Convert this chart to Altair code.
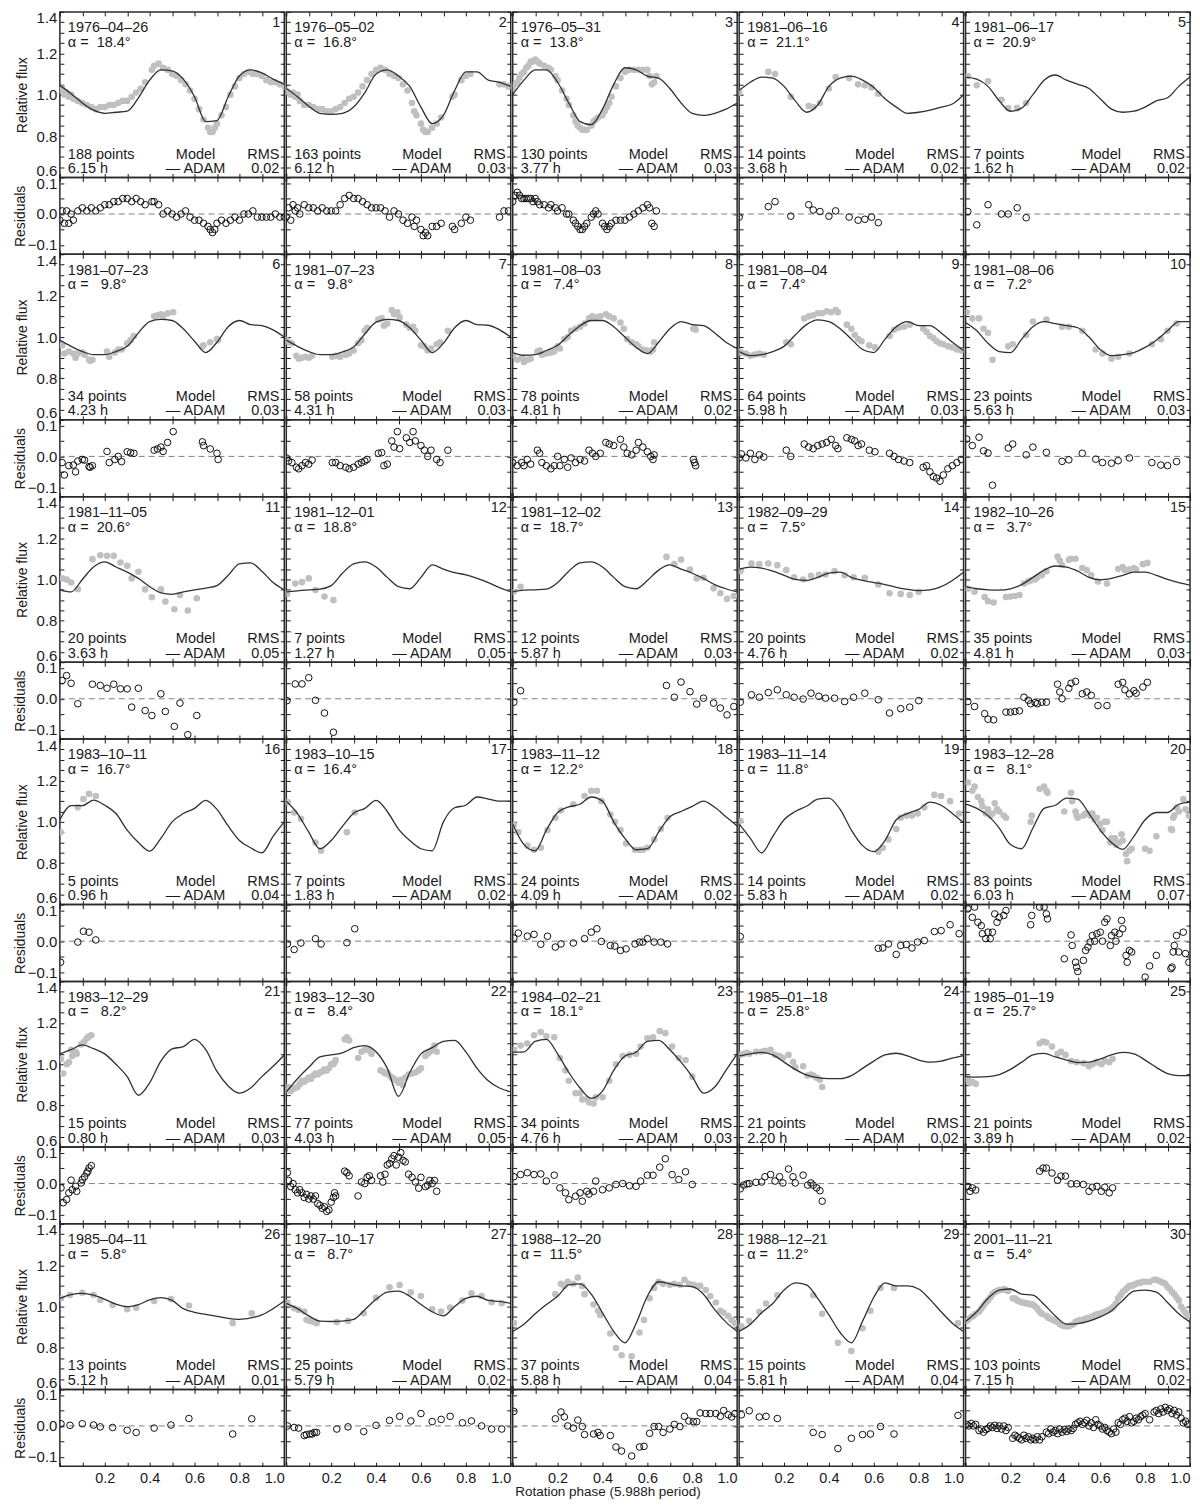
import altair as alt
import pandas as pd

# ---------------- panel metadata ----------------
DATES = ["1976–04–26", "1976–05–02", "1976–05–31", "1981–06–16", "1981–06–17",
         "1981–07–23", "1981–07–23", "1981–08–03", "1981–08–04", "1981–08–06",
         "1981–11–05", "1981–12–01", "1981–12–02", "1982–09–29", "1982–10–26",
         "1983–10–11", "1983–10–15", "1983–11–12", "1983–11–14", "1983–12–28",
         "1983–12–29", "1983–12–30", "1984–02–21", "1985–01–18", "1985–01–19",
         "1985–04–11", "1987–10–17", "1988–12–20", "1988–12–21", "2001–11–21"]
ALPHAS = [18.4, 16.8, 13.8, 21.1, 20.9, 9.8, 9.8, 7.4, 7.4, 7.2,
          20.6, 18.8, 18.7, 7.5, 3.7, 16.7, 16.4, 12.2, 11.8, 8.1,
          8.2, 8.4, 18.1, 25.8, 25.7, 5.8, 8.7, 11.5, 11.2, 5.4]
NPTS = [188, 163, 130, 14, 7, 34, 58, 78, 64, 23, 20, 7, 12, 20, 35,
        5, 7, 24, 14, 83, 15, 77, 34, 21, 21, 13, 25, 37, 15, 103]
HOURS = [6.15, 6.12, 3.77, 3.68, 1.62, 4.23, 4.31, 4.81, 5.98, 5.63,
         3.63, 1.27, 5.87, 4.76, 4.81, 0.96, 1.83, 4.09, 5.83, 6.03,
         0.80, 4.03, 4.76, 2.20, 3.89, 5.12, 5.79, 5.88, 5.81, 7.15]
RMS = [0.02, 0.03, 0.03, 0.02, 0.02, 0.03, 0.03, 0.02, 0.03, 0.03,
       0.05, 0.05, 0.03, 0.02, 0.03, 0.04, 0.02, 0.02, 0.02, 0.07,
       0.03, 0.05, 0.03, 0.02, 0.02, 0.01, 0.02, 0.04, 0.04, 0.02]

# ---------------- model curves (ADAM), sampled on a phase grid ----------------
GRID = [0.00, 0.05, 0.10, 0.15, 0.20, 0.25, 0.30, 0.35, 0.40, 0.45, 0.50,
        0.55, 0.60, 0.65, 0.70, 0.75, 0.80, 0.85, 0.90, 0.95, 1.00]

M01 = [1.045, 1.005, 0.96, 0.925, 0.91, 0.915, 0.92, 0.985, 1.07, 1.12, 1.115, 1.075, 0.99, 0.87, 0.875, 0.99, 1.09, 1.12, 1.105, 1.075, 1.05]
M02 = [1.03, 0.99, 0.945, 0.91, 0.905, 0.91, 0.94, 1.01, 1.10, 1.12, 1.09, 1.04, 0.94, 0.86, 0.90, 1.02, 1.11, 1.11, 1.07, 1.06, 1.04]
M03 = [1.00, 1.07, 1.12, 1.12, 1.06, 0.96, 0.87, 0.855, 0.93, 1.05, 1.13, 1.12, 1.09, 1.08, 1.03, 0.96, 0.91, 0.90, 0.91, 0.93, 0.96]
M04 = [1.02, 1.06, 1.085, 1.08, 1.04, 0.97, 0.915, 0.95, 1.04, 1.08, 1.09, 1.07, 1.035, 0.98, 0.94, 0.91, 0.915, 0.925, 0.94, 0.955, 1.00]
M05 = [1.085, 1.075, 1.04, 0.97, 0.92, 0.935, 1.00, 1.07, 1.095, 1.07, 1.05, 1.03, 0.98, 0.93, 0.915, 0.92, 0.94, 0.97, 0.985, 1.04, 1.085]
M06 = [0.985, 0.955, 0.93, 0.915, 0.915, 0.93, 0.955, 1.02, 1.075, 1.085, 1.08, 1.04, 0.98, 0.925, 0.975, 1.05, 1.08, 1.06, 1.055, 1.035, 1.00]
M07 = [0.985, 0.955, 0.93, 0.915, 0.915, 0.928, 0.952, 1.015, 1.072, 1.085, 1.08, 1.045, 0.985, 0.925, 0.97, 1.045, 1.08, 1.06, 1.057, 1.035, 1.00]
M08 = [0.925, 0.912, 0.915, 0.935, 0.96, 1.01, 1.055, 1.08, 1.08, 1.05, 1.00, 0.95, 0.92, 0.975, 1.04, 1.075, 1.06, 1.055, 1.02, 0.975, 0.945]
M09 = [0.93, 0.91, 0.915, 0.93, 0.955, 1.01, 1.06, 1.083, 1.075, 1.04, 0.99, 0.94, 0.925, 0.99, 1.05, 1.075, 1.055, 1.055, 1.02, 0.975, 0.935]
M10 = [1.07, 1.03, 0.97, 0.93, 0.925, 0.99, 1.05, 1.075, 1.065, 1.055, 1.045, 1.00, 0.94, 0.91, 0.915, 0.925, 0.95, 0.985, 1.03, 1.075, 1.075]
M11 = [0.95, 0.94, 1.00, 1.06, 1.085, 1.06, 1.035, 1.005, 0.965, 0.935, 0.928, 0.94, 0.95, 0.958, 0.97, 1.02, 1.075, 1.08, 1.04, 0.985, 0.95]
M12 = [0.94, 0.945, 0.95, 0.953, 0.97, 1.03, 1.075, 1.085, 1.06, 1.01, 0.965, 0.955, 1.01, 1.07, 1.05, 1.033, 1.022, 1.005, 0.985, 0.96, 0.94]
M13 = [0.94, 0.948, 0.95, 0.953, 0.985, 1.04, 1.08, 1.085, 1.06, 1.01, 0.965, 0.955, 0.995, 1.045, 1.07, 1.05, 1.03, 1.005, 0.975, 0.955, 0.94]
M14 = [1.05, 1.06, 1.055, 1.04, 1.02, 1.00, 0.995, 1.01, 1.03, 1.035, 1.01, 0.995, 0.985, 0.975, 0.962, 0.952, 0.946, 0.95, 0.965, 0.995, 1.035]
M15 = [0.965, 0.955, 0.95, 0.948, 0.955, 0.975, 1.01, 1.045, 1.065, 1.06, 1.04, 1.01, 0.998, 1.005, 1.02, 1.035, 1.035, 1.02, 1.00, 0.985, 0.973]
M16 = [1.01, 1.078, 1.078, 1.105, 1.08, 1.04, 0.96, 0.90, 0.858, 0.92, 1.00, 1.04, 1.065, 1.104, 1.06, 0.98, 0.91, 0.875, 0.85, 0.93, 1.00]
M17 = [1.10, 1.04, 0.95, 0.87, 0.91, 0.978, 1.042, 1.065, 1.104, 1.05, 0.965, 0.91, 0.87, 0.86, 1.00, 1.068, 1.08, 1.12, 1.11, 1.10, 1.10]
M18 = [0.99, 0.89, 0.86, 0.96, 1.045, 1.072, 1.085, 1.12, 1.10, 1.00, 0.92, 0.865, 0.87, 0.95, 1.025, 1.05, 1.075, 1.10, 1.07, 1.025, 0.98]
M19 = [0.99, 0.92, 0.85, 0.93, 1.01, 1.05, 1.075, 1.11, 1.115, 1.06, 0.96, 0.885, 0.856, 0.91, 1.01, 1.04, 1.06, 1.095, 1.08, 1.04, 0.995]
M20 = [1.085, 1.065, 1.03, 0.97, 0.89, 0.87, 0.97, 1.065, 1.08, 1.115, 1.11, 1.04, 0.96, 0.90, 0.867, 0.93, 1.01, 1.045, 1.045, 1.085, 1.095]
M21 = [1.05, 1.07, 1.093, 1.075, 1.05, 1.00, 0.94, 0.85, 0.91, 1.015, 1.074, 1.085, 1.12, 1.07, 0.965, 0.895, 0.86, 0.885, 0.94, 0.99, 1.045]
M22 = [0.866, 0.93, 0.985, 1.035, 1.045, 1.055, 1.08, 1.09, 1.06, 0.98, 0.845, 0.96, 1.05, 1.08, 1.11, 1.115, 1.06, 0.98, 0.92, 0.885, 0.866]
M23 = [1.058, 1.06, 1.11, 1.12, 1.05, 0.96, 0.885, 0.835, 0.87, 0.97, 1.04, 1.058, 1.11, 1.115, 1.07, 1.01, 0.94, 0.86, 0.89, 0.97, 1.05]
M24 = [1.04, 1.05, 1.057, 1.045, 1.01, 0.975, 0.948, 0.935, 0.93, 0.93, 0.945, 0.98, 1.015, 1.045, 1.053, 1.04, 1.02, 1.01, 1.015, 1.03, 1.042]
M25 = [0.94, 0.938, 0.94, 0.95, 0.975, 1.01, 1.045, 1.052, 1.035, 1.02, 1.008, 1.01, 1.025, 1.045, 1.057, 1.05, 1.02, 0.985, 0.955, 0.945, 0.945]
M26 = [1.04, 1.058, 1.064, 1.055, 1.035, 1.012, 1.00, 1.01, 1.032, 1.043, 1.03, 0.99, 0.972, 0.962, 0.953, 0.943, 0.938, 0.945, 0.96, 0.99, 1.027]
M27 = [1.016, 0.99, 0.955, 0.93, 0.928, 0.93, 0.938, 0.985, 1.035, 1.07, 1.075, 1.05, 1.01, 0.975, 0.955, 1.00, 1.04, 1.05, 1.03, 1.025, 1.016]
M28 = [0.88, 0.915, 0.965, 1.01, 1.05, 1.105, 1.11, 1.06, 0.97, 0.88, 0.825, 0.92, 1.05, 1.12, 1.11, 1.10, 1.097, 1.06, 0.985, 0.925, 0.88]
M29 = [0.88, 0.915, 0.97, 1.015, 1.08, 1.115, 1.105, 1.04, 0.96, 0.875, 0.825, 0.93, 1.045, 1.115, 1.10, 1.10, 1.085, 1.035, 0.975, 0.92, 0.88]
M30 = [0.928, 0.975, 1.04, 1.08, 1.085, 1.06, 1.055, 1.01, 0.955, 0.915, 0.918, 0.93, 0.95, 0.98, 1.03, 1.075, 1.08, 1.07, 1.02, 0.965, 0.925]

# ---------------- observations: (phase, relative flux, residual) ----------------
D01 = [(0.00, 1.02, -0.02), (0.01, 1.03, 0.01), (0.02, 1.00, -0.03), (0.03, 1.01, 0.01), (0.04, 0.99, -0.03),
       (0.05, 1.00, 0.00), (0.06, 0.98, -0.02), (0.08, 0.97, 0.01), (0.10, 0.96, 0.02), (0.12, 0.95, 0.01),
       (0.14, 0.94, 0.02), (0.16, 0.93, 0.01), (0.18, 0.94, 0.02), (0.20, 0.94, 0.03), (0.22, 0.95, 0.03),
       (0.24, 0.95, 0.04), (0.26, 0.96, 0.04), (0.28, 0.97, 0.05), (0.30, 0.97, 0.05), (0.32, 0.99, 0.04),
       (0.34, 1.01, 0.05), (0.36, 1.03, 0.04), (0.38, 1.06, 0.03), (0.41, 1.12, 0.04), (0.42, 1.14, 0.04),
       (0.44, 1.15, 0.03), (0.46, 1.13, 0.00), (0.48, 1.12, 0.01), (0.50, 1.10, 0.00), (0.52, 1.09, -0.01),
       (0.54, 1.07, 0.00), (0.56, 1.05, 0.01), (0.58, 1.02, -0.01), (0.60, 0.98, -0.02), (0.62, 0.93, -0.02),
       (0.64, 0.88, -0.03), (0.66, 0.84, -0.04), (0.67, 0.82, -0.05), (0.68, 0.82, -0.06), (0.69, 0.84, -0.05),
       (0.70, 0.86, -0.03), (0.72, 0.90, -0.02), (0.74, 0.94, -0.03), (0.76, 1.00, -0.02), (0.78, 1.04, -0.01),
       (0.80, 1.08, -0.02), (0.82, 1.10, 0.00), (0.84, 1.11, 0.00), (0.86, 1.10, 0.01), (0.88, 1.10, -0.01),
       (0.90, 1.09, -0.01), (0.92, 1.07, -0.01), (0.94, 1.06, -0.01), (0.96, 1.06, 0.00), (0.98, 1.05, -0.01),
       (1.00, 1.04, -0.01)]
D02 = [(0.00, 1.02, -0.01), (0.01, 1.01, 0.02), (0.02, 1.00, -0.02), (0.03, 1.01, 0.03), (0.04, 0.99, 0.01),
       (0.05, 1.00, 0.02), (0.06, 0.97, 0.00), (0.08, 0.95, 0.03), (0.10, 0.95, 0.02), (0.12, 0.94, 0.02),
       (0.14, 0.93, 0.01), (0.16, 0.93, 0.02), (0.18, 0.92, 0.01), (0.20, 0.92, 0.01), (0.22, 0.93, 0.01),
       (0.24, 0.94, 0.03), (0.26, 0.96, 0.05), (0.28, 0.98, 0.06), (0.30, 0.99, 0.05), (0.32, 1.01, 0.05),
       (0.34, 1.04, 0.04), (0.36, 1.07, 0.03), (0.38, 1.10, 0.02), (0.40, 1.12, 0.02), (0.42, 1.13, 0.02),
       (0.44, 1.12, 0.01), (0.46, 1.10, -0.01), (0.48, 1.09, 0.01), (0.50, 1.08, 0.00), (0.52, 1.05, -0.02),
       (0.54, 1.02, -0.03), (0.56, 0.96, -0.01), (0.57, 0.92, -0.04), (0.58, 0.90, -0.02), (0.60, 0.86, -0.05),
       (0.61, 0.83, -0.07), (0.62, 0.82, -0.06), (0.63, 0.82, -0.07), (0.65, 0.84, -0.04), (0.67, 0.86, -0.04),
       (0.69, 0.89, -0.03), (0.74, 0.99, -0.04), (0.75, 1.00, -0.05), (0.78, 1.07, -0.03), (0.80, 1.09, -0.01),
       (0.82, 1.10, -0.02), (0.95, 1.05, -0.01), (0.97, 1.05, 0.01), (0.99, 1.04, 0.01)]
D03 = [(0.00, 1.03, 0.04), (0.01, 1.05, 0.06), (0.02, 1.06, 0.07), (0.03, 1.08, 0.06), (0.04, 1.10, 0.05),
       (0.05, 1.11, 0.05), (0.06, 1.13, 0.05), (0.07, 1.14, 0.05), (0.08, 1.16, 0.05), (0.09, 1.16, 0.04),
       (0.10, 1.17, 0.05), (0.11, 1.16, 0.04), (0.12, 1.15, 0.03), (0.14, 1.14, 0.03), (0.16, 1.13, 0.02),
       (0.17, 1.12, 0.03), (0.19, 1.09, 0.02), (0.20, 1.07, 0.01), (0.22, 1.02, 0.02), (0.24, 0.98, 0.00),
       (0.25, 0.95, 0.00), (0.27, 0.90, -0.02), (0.28, 0.87, -0.03), (0.29, 0.85, -0.04), (0.30, 0.84, -0.05),
       (0.31, 0.83, -0.05), (0.32, 0.83, -0.04), (0.33, 0.83, -0.03), (0.35, 0.85, -0.01), (0.36, 0.87, 0.00),
       (0.37, 0.88, 0.01), (0.38, 0.89, 0.00), (0.40, 0.90, -0.03), (0.41, 0.92, -0.04), (0.42, 0.94, -0.05),
       (0.43, 0.96, -0.04), (0.44, 0.99, -0.03), (0.46, 1.04, -0.02), (0.48, 1.08, -0.02), (0.50, 1.11, -0.02),
       (0.52, 1.12, -0.01), (0.54, 1.12, 0.00), (0.56, 1.12, 0.01), (0.58, 1.12, 0.02), (0.60, 1.12, 0.03),
       (0.61, 1.09, 0.02), (0.62, 1.05, -0.03), (0.63, 1.06, -0.04), (0.64, 1.09, 0.01)]
D04 = [(0.00, 1.01, -0.01), (0.13, 1.11, 0.024), (0.16, 1.10, 0.04), (0.23, 0.99, -0.007), (0.31, 0.945, 0.03),
       (0.33, 0.94, 0.013), (0.36, 0.96, 0.008), (0.40, 1.03, -0.007), (0.43, 1.085, 0.01), (0.49, 1.08, -0.01),
       (0.53, 1.05, -0.02), (0.56, 1.045, -0.017), (0.59, 1.035, -0.01), (0.62, 1.005, -0.028)]
D05 = [(0.01, 1.09, 0.008), (0.05, 1.045, -0.035), (0.10, 1.065, 0.03), (0.16, 0.975, 0.0), (0.19, 0.935, 0.0),
       (0.23, 0.935, 0.02), (0.27, 0.96, -0.012)]
D06 = [(0.01, 0.96, -0.02), (0.02, 0.92, -0.06), (0.04, 0.93, -0.03), (0.06, 0.92, -0.028), (0.07, 0.90, -0.05),
       (0.08, 0.92, -0.015), (0.10, 0.925, -0.01), (0.11, 0.915, -0.012), (0.13, 0.89, -0.033), (0.135, 0.885, -0.035),
       (0.145, 0.89, -0.03), (0.21, 0.93, 0.016), (0.22, 0.905, -0.02), (0.245, 0.925, -0.01), (0.26, 0.94, 0.0),
       (0.275, 0.94, -0.017), (0.30, 0.97, 0.015), (0.315, 0.985, 0.012), (0.33, 1.005, 0.01), (0.42, 1.10, 0.02),
       (0.435, 1.105, 0.024), (0.45, 1.11, 0.03), (0.46, 1.10, 0.016), (0.48, 1.115, 0.045), (0.505, 1.12, 0.08),
       (0.635, 0.955, 0.047), (0.64, 0.96, 0.035), (0.67, 0.975, 0.024), (0.70, 0.99, 0.01), (0.705, 0.985, -0.01)]
D07 = [(0.00, 0.985, -0.005), (0.01, 0.975, -0.015), (0.025, 0.97, -0.02), (0.045, 0.91, -0.035), (0.055, 0.895, -0.04),
       (0.07, 0.90, -0.03), (0.085, 0.905, -0.02), (0.10, 0.90, -0.025), (0.115, 0.91, -0.012), (0.205, 0.905, -0.02),
       (0.22, 0.91, -0.02), (0.24, 0.905, -0.03), (0.265, 0.915, -0.035), (0.28, 0.92, -0.04), (0.30, 0.935, -0.035),
       (0.32, 0.97, -0.025), (0.335, 0.985, -0.02), (0.35, 1.03, -0.015), (0.36, 1.045, -0.01), (0.41, 1.085, 0.01),
       (0.425, 1.09, 0.012), (0.435, 1.055, -0.03), (0.45, 1.065, -0.025), (0.47, 1.13, 0.05), (0.48, 1.11, 0.03),
       (0.495, 1.12, 0.08), (0.505, 1.095, 0.025), (0.535, 1.06, 0.06), (0.55, 1.045, 0.045), (0.565, 1.05, 0.08),
       (0.575, 1.03, 0.05), (0.60, 0.96, 0.035), (0.615, 0.955, 0.02), (0.63, 0.935, 0.0), (0.645, 0.945, 0.02),
       (0.67, 0.965, -0.01), (0.685, 0.975, -0.02), (0.72, 1.03, 0.02)]
D08 = [(0.00, 0.91, -0.02), (0.02, 0.89, -0.03), (0.04, 0.90, -0.02), (0.05, 0.88, -0.03), (0.065, 0.89, -0.01),
       (0.08, 0.895, -0.025), (0.11, 0.93, 0.02), (0.12, 0.935, 0.01), (0.13, 0.915, -0.02), (0.15, 0.92, -0.03),
       (0.17, 0.925, -0.04), (0.185, 0.93, -0.03), (0.20, 0.955, 0.0), (0.21, 0.945, -0.03), (0.23, 0.99, -0.01),
       (0.245, 1.00, -0.035), (0.26, 1.03, -0.005), (0.28, 1.04, -0.02), (0.30, 1.05, -0.01), (0.32, 1.065, -0.015),
       (0.34, 1.09, 0.02), (0.355, 1.10, 0.01), (0.37, 1.095, 0.0), (0.39, 1.10, 0.01), (0.415, 1.11, 0.045),
       (0.43, 1.10, 0.04), (0.45, 1.09, 0.035), (0.48, 1.07, 0.055), (0.495, 1.04, 0.03), (0.51, 0.99, 0.01),
       (0.53, 0.975, 0.005), (0.55, 0.965, 0.02), (0.56, 0.955, 0.045), (0.58, 0.94, 0.03), (0.60, 0.935, 0.015),
       (0.615, 0.93, 0.0), (0.625, 0.94, -0.01), (0.63, 0.975, 0.005), (0.805, 1.04, -0.01), (0.81, 1.045, -0.02),
       (0.815, 1.035, -0.03)]
D09 = [(0.00, 0.93, -0.005), (0.01, 0.925, 0.008), (0.03, 0.92, -0.005), (0.05, 0.91, 0.01), (0.07, 0.915, -0.01),
       (0.09, 0.92, 0.005), (0.11, 0.915, -0.002), (0.21, 0.975, 0.02), (0.23, 0.965, 0.0), (0.29, 1.09, 0.04),
       (0.31, 1.10, 0.03), (0.33, 1.105, 0.025), (0.35, 1.115, 0.035), (0.37, 1.115, 0.04), (0.39, 1.125, 0.045),
       (0.41, 1.12, 0.055), (0.43, 1.13, 0.035), (0.44, 1.12, 0.025), (0.48, 1.06, 0.06), (0.50, 1.04, 0.055),
       (0.515, 1.01, 0.05), (0.53, 0.99, 0.035), (0.545, 0.98, 0.04), (0.58, 0.96, 0.02), (0.605, 0.95, 0.015),
       (0.67, 1.005, 0.01), (0.69, 1.035, 0.0), (0.71, 1.045, -0.01), (0.735, 1.05, -0.015), (0.76, 1.06, -0.02),
       (0.82, 1.04, -0.035), (0.835, 1.025, -0.03), (0.85, 1.005, -0.05), (0.865, 0.995, -0.065), (0.88, 0.98, -0.07),
       (0.895, 0.97, -0.08), (0.91, 0.965, -0.06), (0.93, 0.955, -0.04), (0.95, 0.95, -0.03), (0.97, 0.94, -0.02),
       (0.99, 0.935, -0.01)]
D10 = [(0.005, 1.12, 0.056), (0.03, 1.09, 0.035), (0.06, 1.09, 0.062), (0.08, 1.04, 0.018), (0.10, 1.02, 0.011),
       (0.12, 0.89, -0.093), (0.19, 0.955, 0.027), (0.21, 0.965, 0.04), (0.27, 1.01, 0.005), (0.30, 1.075, 0.03),
       (0.36, 1.085, 0.013), (0.43, 1.05, -0.016), (0.46, 1.05, -0.011), (0.52, 1.03, 0.01), (0.58, 0.94, -0.009),
       (0.61, 0.92, -0.02), (0.65, 0.895, -0.022), (0.68, 0.905, -0.014), (0.73, 0.92, -0.005), (0.83, 0.965, -0.02),
       (0.87, 0.99, -0.028), (0.90, 1.03, -0.03), (0.94, 1.065, -0.017)]
D11 = [(0.01, 1.005, 0.059), (0.03, 1.00, 0.075), (0.05, 0.985, 0.05), (0.08, 0.953, -0.016), (0.145, 1.098, 0.047),
       (0.18, 1.117, 0.043), (0.21, 1.114, 0.034), (0.24, 1.114, 0.047), (0.27, 1.082, 0.032), (0.30, 1.066, 0.032),
       (0.32, 1.005, -0.027), (0.35, 1.037, 0.034), (0.38, 0.952, -0.038), (0.41, 0.914, -0.054), (0.45, 0.952, 0.016),
       (0.47, 0.893, -0.041), (0.51, 0.856, -0.089), (0.535, 0.925, -0.014), (0.57, 0.85, -0.116), (0.61, 0.909, -0.054)]
D12 = [(0.003, 0.93, -0.006), (0.04, 0.98, 0.048), (0.07, 0.987, 0.048), (0.10, 1.005, 0.068), (0.13, 0.949, -0.005),
       (0.17, 0.917, -0.046), (0.21, 0.90, -0.108)]
D13 = [(0.005, 0.94, -0.011), (0.035, 0.965, 0.026), (0.685, 1.109, 0.043), (0.72, 1.074, 0.005), (0.75, 1.096, 0.054),
       (0.79, 1.048, 0.023), (0.82, 1.005, -0.017), (0.85, 1.008, 0.002), (0.895, 0.957, -0.014), (0.925, 0.933, -0.03),
       (0.955, 0.906, -0.052), (0.985, 0.92, -0.025)]
D14 = [(0.005, 1.04, -0.011), (0.055, 1.077, 0.013), (0.09, 1.074, 0.005), (0.13, 1.077, 0.02), (0.17, 1.069, 0.029),
       (0.21, 1.045, 0.013), (0.245, 1.01, 0.005), (0.285, 1.00, -0.001), (0.32, 1.018, 0.018), (0.355, 1.022, 0.008),
       (0.385, 1.024, 0.002), (0.425, 1.04, 0.002), (0.47, 1.02, -0.009), (0.51, 1.01, 0.005), (0.56, 1.008, 0.018),
       (0.62, 0.976, -0.003), (0.67, 0.933, -0.046), (0.72, 0.93, -0.032), (0.76, 0.925, -0.027), (0.80, 0.94, -0.006)]
D15 = [(0.01, 0.955, -0.009), (0.04, 0.94, -0.025), (0.085, 0.915, -0.048), (0.10, 0.895, -0.066), (0.125, 0.888, -0.068),
       (0.18, 0.915, -0.043), (0.20, 0.917, -0.043), (0.22, 0.92, -0.041), (0.24, 0.925, -0.039), (0.26, 0.98, 0.005),
       (0.28, 0.99, -0.005), (0.29, 0.995, -0.016), (0.31, 1.00, -0.012), (0.32, 1.01, -0.016), (0.34, 1.02, -0.011),
       (0.36, 1.04, -0.011), (0.41, 1.11, 0.047), (0.42, 1.09, 0.022), (0.43, 1.07, 0.0), (0.46, 1.095, 0.034),
       (0.47, 1.10, 0.05), (0.49, 1.10, 0.056), (0.52, 1.055, 0.016), (0.54, 1.045, 0.022), (0.56, 1.02, 0.011),
       (0.59, 0.99, -0.022), (0.63, 0.98, -0.022), (0.68, 1.05, 0.047), (0.70, 1.06, 0.053), (0.71, 1.045, 0.029),
       (0.73, 1.048, 0.016), (0.75, 1.055, 0.026), (0.76, 1.048, 0.018), (0.79, 1.074, 0.038), (0.81, 1.08, 0.053)]
D16 = [(0.003, 0.95, -0.068), (0.08, 1.07, -0.003), (0.105, 1.11, 0.032), (0.13, 1.135, 0.029), (0.16, 1.125, 0.004)]
D17 = [(0.005, 1.095, -0.009), (0.035, 1.045, -0.027), (0.065, 1.015, -0.006), (0.13, 0.90, 0.008), (0.155, 0.86, -0.009),
       (0.27, 0.95, -0.005), (0.305, 1.045, 0.04)]
D18 = [(0.005, 0.985, 0.01), (0.025, 0.95, 0.026), (0.065, 0.885, 0.016), (0.095, 0.865, 0.022), (0.125, 0.875, -0.01),
       (0.155, 0.96, 0.016), (0.19, 1.02, -0.019), (0.215, 1.055, -0.009), (0.27, 1.085, -0.006), (0.32, 1.125, 0.008),
       (0.35, 1.15, 0.029), (0.375, 1.15, 0.04), (0.395, 1.10, -0.001), (0.435, 1.035, -0.014), (0.455, 1.00, -0.016),
       (0.48, 0.96, -0.03), (0.505, 0.895, -0.025), (0.545, 0.865, -0.009), (0.565, 0.865, -0.003), (0.58, 0.865, -0.003),
       (0.60, 0.875, 0.008), (0.63, 0.915, -0.003), (0.66, 0.965, -0.003), (0.69, 1.02, -0.009)]
D19 = [(0.005, 1.005, 0.015), (0.62, 0.855, -0.023), (0.64, 0.875, -0.022), (0.665, 0.915, -0.009), (0.70, 0.965, -0.043),
       (0.72, 1.02, -0.014), (0.745, 1.03, -0.011), (0.77, 1.03, -0.022), (0.795, 1.04, -0.003), (0.825, 1.07, 0.002),
       (0.87, 1.13, 0.031), (0.90, 1.125, 0.034), (0.94, 1.10, 0.053), (0.98, 1.04, 0.024)]
D20 = [(0.01, 1.19, 0.104), (0.03, 1.15, 0.077), (0.04, 1.17, 0.11), (0.055, 1.12, 0.061), (0.07, 1.10, 0.05),
       (0.075, 1.075, 0.024), (0.09, 1.04, 0.008), (0.10, 1.06, 0.029), (0.11, 1.03, 0.008), (0.12, 1.04, 0.029),
       (0.13, 1.09, 0.088), (0.14, 1.06, 0.061), (0.15, 1.05, 0.077), (0.17, 1.03, 0.083), (0.18, 1.02, 0.099),
       (0.29, 1.00, 0.053), (0.295, 1.03, 0.083), (0.33, 1.16, 0.11), (0.35, 1.17, 0.11), (0.36, 1.15, 0.088),
       (0.365, 1.14, 0.072), (0.44, 1.05, -0.057), (0.47, 1.14, 0.02), (0.475, 1.10, -0.014), (0.49, 1.05, -0.068),
       (0.495, 1.03, -0.084), (0.50, 1.02, -0.098), (0.525, 1.03, -0.062), (0.535, 1.04, -0.03), (0.545, 1.04, -0.019),
       (0.555, 1.03, -0.003), (0.565, 1.04, 0.018), (0.575, 1.01, 0.0), (0.585, 1.02, 0.024), (0.60, 0.99, 0.029),
       (0.61, 0.96, 0.0), (0.62, 1.00, 0.061), (0.63, 1.00, 0.072), (0.645, 0.90, -0.014), (0.65, 0.92, 0.018),
       (0.665, 0.92, 0.029), (0.67, 0.89, 0.0), (0.685, 0.90, 0.024), (0.695, 0.94, 0.067), (0.70, 0.91, 0.04),
       (0.715, 0.845, -0.046), (0.72, 0.81, -0.068), (0.73, 0.86, -0.03), (0.74, 0.87, -0.035), (0.80, 0.87, -0.116),
       (0.82, 0.86, -0.08), (0.85, 0.93, -0.046), (0.915, 0.965, -0.089), (0.92, 0.96, -0.084), (0.925, 1.02, -0.035),
       (0.93, 1.03, -0.014), (0.94, 1.07, 0.018), (0.95, 1.05, -0.035), (0.97, 1.11, 0.029), (0.98, 1.06, -0.04),
       (0.995, 1.03, -0.068)]
D21 = [(0.005, 1.025, -0.014), (0.015, 0.955, -0.062), (0.03, 1.00, -0.052), (0.04, 1.01, -0.03), (0.05, 1.07, 0.011),
       (0.055, 1.04, -0.02), (0.07, 1.06, -0.009), (0.075, 1.05, -0.025), (0.095, 1.095, 0.002), (0.10, 1.10, 0.013),
       (0.11, 1.11, 0.022), (0.12, 1.125, 0.034), (0.125, 1.13, 0.04), (0.13, 1.135, 0.05), (0.14, 1.14, 0.058)]
D22 = [(0.005, 0.89, 0.035), (0.01, 0.875, 0.01), (0.02, 0.87, -0.01), (0.03, 0.88, 0.0), (0.04, 0.885, -0.02),
       (0.05, 0.89, -0.03), (0.06, 0.905, -0.02), (0.07, 0.92, -0.03), (0.08, 0.915, -0.045), (0.09, 0.925, -0.035),
       (0.10, 0.935, -0.05), (0.11, 0.93, -0.04), (0.12, 0.945, -0.05), (0.13, 0.955, -0.04), (0.14, 0.95, -0.065),
       (0.15, 0.96, -0.07), (0.16, 0.965, -0.08), (0.17, 0.975, -0.075), (0.18, 0.97, -0.09), (0.19, 0.98, -0.085),
       (0.20, 1.00, -0.06), (0.21, 1.00, -0.045), (0.215, 1.01, -0.03), (0.22, 1.02, -0.04), (0.26, 1.12, 0.04),
       (0.27, 1.13, 0.035), (0.28, 1.115, 0.025), (0.32, 1.03, -0.04), (0.335, 1.06, 0.005), (0.35, 1.07, 0.0),
       (0.36, 1.07, 0.02), (0.37, 1.065, 0.025), (0.38, 1.05, 0.01), (0.42, 0.97, 0.025), (0.43, 0.965, 0.005),
       (0.44, 0.955, 0.03), (0.45, 0.96, 0.06), (0.46, 0.945, 0.065), (0.47, 0.935, 0.08), (0.48, 0.93, 0.09),
       (0.49, 0.92, 0.06), (0.50, 0.91, 0.085), (0.51, 0.925, 0.10), (0.52, 0.90, 0.075), (0.53, 0.935, 0.07),
       (0.545, 0.95, 0.03), (0.56, 0.955, 0.02), (0.575, 0.96, 0.005), (0.59, 0.97, -0.015), (0.60, 0.98, 0.02),
       (0.62, 1.04, -0.01), (0.63, 1.05, -0.005), (0.64, 1.06, 0.01), (0.65, 1.07, 0.0), (0.66, 1.09, 0.01),
       (0.67, 1.06, -0.025)]
D23 = [(0.005, 1.07, 0.022), (0.035, 1.09, 0.029), (0.065, 1.10, 0.035), (0.095, 1.14, 0.029), (0.125, 1.155, 0.031),
       (0.15, 1.135, 0.008), (0.185, 1.13, 0.027), (0.21, 1.03, -0.014), (0.235, 0.97, -0.03), (0.25, 0.92, -0.052),
       (0.28, 0.86, -0.041), (0.30, 0.86, -0.03), (0.31, 0.83, -0.057), (0.33, 0.83, -0.025), (0.34, 0.815, -0.034),
       (0.36, 0.81, -0.025), (0.37, 0.84, 0.008), (0.40, 0.84, -0.02), (0.43, 0.92, -0.014), (0.46, 1.00, -0.003),
       (0.49, 1.04, 0.0), (0.52, 1.045, -0.007), (0.55, 1.05, -0.009), (0.57, 1.085, 0.008), (0.60, 1.125, 0.027),
       (0.625, 1.13, 0.027), (0.655, 1.16, 0.053), (0.68, 1.15, 0.08), (0.71, 1.085, 0.029), (0.74, 1.03, 0.013),
       (0.77, 1.02, 0.038), (0.80, 0.94, -0.003)]
D24 = [(0.005, 1.045, -0.017), (0.02, 1.05, -0.005), (0.035, 1.055, -0.001), (0.045, 1.05, 0.0), (0.075, 1.06, 0.004),
       (0.10, 1.06, 0.005), (0.115, 1.065, 0.022), (0.14, 1.07, 0.029), (0.16, 1.045, 0.008), (0.18, 1.04, 0.022),
       (0.195, 1.03, 0.002), (0.22, 1.045, 0.047), (0.24, 1.01, 0.022), (0.25, 0.985, 0.002), (0.285, 0.99, 0.027),
       (0.305, 0.945, -0.005), (0.32, 0.95, 0.002), (0.33, 0.945, -0.005), (0.345, 0.935, -0.014), (0.36, 0.925, -0.023),
       (0.37, 0.89, -0.057)]
D25 = [(0.01, 0.925, -0.009), (0.02, 0.91, -0.025), (0.03, 0.915, -0.014), (0.045, 0.905, -0.021), (0.33, 1.10, 0.04),
       (0.345, 1.11, 0.05), (0.36, 1.105, 0.05), (0.385, 1.085, 0.034), (0.41, 1.05, 0.011), (0.425, 1.06, 0.024),
       (0.445, 1.045, 0.024), (0.47, 1.015, -0.001), (0.495, 1.01, -0.001), (0.525, 1.005, -0.003), (0.55, 0.99, -0.025),
       (0.565, 1.00, -0.012), (0.585, 1.01, -0.009), (0.605, 1.00, -0.025), (0.62, 1.015, -0.012), (0.64, 1.01, -0.03),
       (0.655, 1.025, -0.014)]
D26 = [(0.005, 1.04, 0.007), (0.045, 1.056, 0.002), (0.10, 1.067, 0.007), (0.15, 1.056, 0.003), (0.18, 1.032, -0.003),
       (0.235, 1.008, -0.005), (0.30, 0.987, -0.014), (0.34, 0.995, -0.021), (0.42, 1.027, -0.007), (0.495, 1.037, 0.003),
       (0.575, 1.005, 0.024), (0.77, 0.92, -0.026), (0.855, 0.968, 0.023)]
D27 = [(0.005, 1.019, 0.0), (0.035, 0.992, -0.005), (0.055, 0.984, -0.007), (0.08, 0.976, -0.031), (0.09, 0.936, -0.028),
       (0.105, 0.931, -0.026), (0.115, 0.928, -0.026), (0.125, 0.925, -0.021), (0.135, 0.92, -0.021), (0.225, 0.925, -0.01),
       (0.275, 0.931, -0.003), (0.345, 0.968, -0.018), (0.40, 1.043, 0.002), (0.46, 1.093, 0.018), (0.505, 1.104, 0.031),
       (0.555, 1.069, 0.016), (0.60, 1.051, 0.04), (0.65, 0.987, 0.014), (0.69, 0.976, 0.021), (0.73, 0.995, 0.031),
       (0.785, 1.029, 0.01), (0.825, 1.064, 0.016), (0.87, 1.051, 0.0), (0.915, 1.021, -0.01), (0.96, 1.016, -0.01)]
D28 = [(0.005, 0.92, 0.047), (0.19, 1.06, 0.023), (0.215, 1.11, 0.045), (0.23, 1.10, 0.029), (0.245, 1.12, 0.0),
       (0.27, 1.11, -0.007), (0.29, 1.14, 0.019), (0.31, 1.10, -0.002), (0.32, 1.06, -0.028), (0.36, 1.01, -0.026),
       (0.38, 0.98, -0.021), (0.39, 0.96, -0.031), (0.435, 0.87, -0.031), (0.46, 0.80, -0.068), (0.485, 0.765, -0.081),
       (0.53, 0.76, -0.097), (0.565, 0.875, -0.068), (0.585, 0.935, -0.066), (0.61, 1.04, -0.024), (0.63, 1.09, -0.002),
       (0.65, 1.12, -0.002), (0.67, 1.11, -0.021), (0.70, 1.105, -0.01), (0.72, 1.11, 0.005), (0.745, 1.105, -0.002),
       (0.765, 1.13, 0.031), (0.785, 1.11, 0.016), (0.805, 1.105, 0.014), (0.82, 1.10, 0.014), (0.835, 1.10, 0.042),
       (0.86, 1.08, 0.04), (0.88, 1.05, 0.04), (0.905, 1.02, 0.04), (0.925, 0.98, 0.031), (0.94, 0.97, 0.05),
       (0.96, 0.955, 0.036), (0.975, 0.935, 0.029), (0.99, 0.92, 0.04)]
D29 = [(0.01, 0.905, 0.036), (0.045, 0.93, 0.049), (0.09, 0.975, 0.029), (0.12, 1.015, 0.031), (0.17, 1.055, 0.024),
       (0.33, 1.055, -0.021), (0.37, 0.965, -0.028), (0.44, 0.825, -0.073), (0.50, 0.785, -0.04), (0.55, 0.895, -0.028),
       (0.585, 0.98, -0.026), (0.63, 1.09, -0.002), (0.69, 1.09, -0.026), (0.975, 0.92, 0.034)]
D30 = [(0.005, 0.93, 0.005), (0.015, 0.94, 0.0), (0.025, 0.95, 0.008), (0.035, 0.955, 0.0), (0.045, 0.965, 0.005),
       (0.06, 0.975, -0.015), (0.07, 0.99, -0.01), (0.08, 1.005, -0.02), (0.09, 1.02, -0.012), (0.10, 1.03, -0.008),
       (0.11, 1.045, 0.0), (0.12, 1.06, -0.005), (0.13, 1.07, 0.002), (0.14, 1.075, -0.008), (0.15, 1.08, 0.0),
       (0.16, 1.08, -0.01), (0.17, 1.085, 0.0), (0.18, 1.08, -0.015), (0.19, 1.075, -0.005), (0.21, 1.04, -0.04),
       (0.22, 1.04, -0.03), (0.23, 1.03, -0.035), (0.24, 1.025, -0.04), (0.25, 1.02, -0.045), (0.26, 1.02, -0.03),
       (0.27, 1.015, -0.04), (0.28, 1.015, -0.035), (0.29, 1.01, -0.045), (0.30, 1.01, -0.04), (0.31, 1.00, -0.045),
       (0.32, 0.99, -0.035), (0.33, 0.975, -0.045), (0.34, 0.965, -0.035), (0.36, 0.955, -0.02), (0.37, 0.945, -0.025),
       (0.38, 0.94, -0.01), (0.39, 0.935, -0.02), (0.40, 0.93, -0.015), (0.41, 0.925, -0.025), (0.42, 0.915, -0.01),
       (0.43, 0.91, -0.02), (0.44, 0.905, -0.012), (0.45, 0.905, -0.018), (0.46, 0.905, -0.01), (0.47, 0.91, -0.015),
       (0.48, 0.915, -0.008), (0.49, 0.925, 0.005), (0.50, 0.93, 0.01), (0.51, 0.935, 0.015), (0.52, 0.935, 0.005),
       (0.53, 0.94, 0.01), (0.54, 0.945, 0.018), (0.55, 0.945, 0.0), (0.56, 0.95, 0.01), (0.57, 0.955, -0.005),
       (0.58, 0.96, 0.02), (0.59, 0.965, 0.005), (0.60, 0.965, 0.0), (0.61, 0.97, -0.01), (0.62, 0.975, -0.005),
       (0.63, 0.98, -0.015), (0.64, 0.985, -0.02), (0.65, 0.99, -0.025), (0.66, 1.00, -0.01), (0.67, 1.015, -0.02),
       (0.68, 1.04, 0.01), (0.69, 1.055, 0.005), (0.70, 1.07, 0.02), (0.71, 1.08, 0.025), (0.72, 1.09, 0.015),
       (0.73, 1.10, 0.03), (0.74, 1.10, 0.01), (0.75, 1.105, 0.015), (0.76, 1.11, 0.025), (0.77, 1.115, 0.02),
       (0.78, 1.115, 0.03), (0.79, 1.12, 0.035), (0.80, 1.12, 0.04), (0.82, 1.12, 0.02), (0.84, 1.13, 0.045),
       (0.85, 1.13, 0.05), (0.86, 1.125, 0.04), (0.87, 1.12, 0.055), (0.88, 1.115, 0.045), (0.89, 1.11, 0.06),
       (0.90, 1.095, 0.05), (0.91, 1.085, 0.055), (0.92, 1.07, 0.04), (0.93, 1.06, 0.05), (0.94, 1.045, 0.035),
       (0.95, 1.03, 0.045), (0.96, 1.00, 0.025), (0.97, 0.985, 0.01), (0.98, 0.97, 0.015), (0.99, 0.955, 0.005)]

MODELS = [M01, M02, M03, M04, M05, M06, M07, M08, M09, M10, M11, M12, M13, M14, M15,
          M16, M17, M18, M19, M20, M21, M22, M23, M24, M25, M26, M27, M28, M29, M30]
DATA = [D01, D02, D03, D04, D05, D06, D07, D08, D09, D10, D11, D12, D13, D14, D15,
        D16, D17, D18, D19, D20, D21, D22, D23, D24, D25, D26, D27, D28, D29, D30]

# ---------------- tick values ----------------
XT = [0.0, 0.1, 0.2, 0.3, 0.4, 0.5, 0.6, 0.7, 0.8, 0.9, 1.0]
FYT = [0.60, 0.65, 0.70, 0.75, 0.80, 0.85, 0.90, 0.95, 1.00, 1.05, 1.10, 1.15,
       1.20, 1.25, 1.30, 1.35, 1.40]
RYT = [-0.10, -0.05, 0.00, 0.05, 0.10]

# ---------------- style ----------------
W, HF, HR = 225, 166, 77
TS = 4
FONT = "Liberation Sans"
INK = "#1a1a1a"
GRAY = "#c0c0c0"
LINEC = "#303030"
FS = 14.5

XS = alt.Scale(domain=[0, 1], nice=False, zero=False)
FYS = alt.Scale(domain=[0.6, 1.4], nice=False, zero=False)
RYS = alt.Scale(domain=[-0.130, 0.118], nice=False, zero=False)


def ax(orient, values, **kw):
    d = dict(orient=orient, values=values, tickSize=TS, offset=-TS, domain=False, grid=False,
             tickColor=INK, tickWidth=1, labels=False, title=None, labelOverlap=False)
    d.update(kw)
    return alt.Axis(**d)


LAB = dict(labels=True, labelFont=FONT, labelFontSize=15, labelColor=INK, labelPadding=3)
TIT = dict(titleFont=FONT, titleFontSize=14, titleFontWeight="normal", titleColor=INK)


def txt(s, x, y, align="left", baseline="alphabetic"):
    return alt.Chart(pd.DataFrame({"t": [s]})).mark_text(
        align=align, baseline=baseline, font=FONT, fontSize=FS, color=INK,
        lineBreak="\n", lineHeight=14.5
    ).encode(text="t:N", x=alt.value(x), y=alt.value(y))


def flux_panel(i, r, c):
    md = pd.DataFrame({"phase": GRID, "flux": MODELS[i]})
    dd = pd.DataFrame(DATA[i], columns=["phase", "flux", "res"])
    if c == 0:
        left = ax("left", FYT, title="Relative flux", titlePadding=7,
                  labelExpr="abs(datum.value*5 - round(datum.value*5)) < 0.01 ? format(datum.value, '.1f') : ''",
                  labelFlush=True, labelFlushOffset=1, **LAB, **TIT)
    else:
        left = ax("left", FYT)
    pts = alt.Chart(dd).mark_circle(size=44, color=GRAY, opacity=1, clip=True).encode(
        x=alt.X("phase:Q", scale=XS, axis=ax("bottom", XT)),
        y=alt.Y("flux:Q", scale=FYS, axis=left))
    line = alt.Chart(md).mark_line(color=LINEC, strokeWidth=1.3, interpolate="monotone", clip=True).encode(
        x=alt.X("phase:Q", scale=XS, axis=ax("top", XT)),
        y=alt.Y("flux:Q", scale=FYS, axis=ax("right", FYT)))
    a = f"{ALPHAS[i]:.1f}"
    tl = f"{DATES[i]}\nα =" + "\u00a0" * (1 + 5 - len(a)) + a + "°"
    texts = [
        txt(tl, 8, 9.5, baseline="top"),
        txt(str(i + 1), W - 4, 15, "right"),
        txt(f"{NPTS[i]} points\n{HOURS[i]:.2f} h", 8, 147),
        txt("Model\n— ADAM", 136, 147, "center"),
        txt(f"RMS\n{RMS[i]:.2f}", W - 5, 147, "right"),
    ]
    return alt.layer(pts, line, *texts).resolve_axis(x="independent", y="independent").properties(
        width=W, height=HF)


def resid_panel(i, r, c):
    dd = pd.DataFrame(DATA[i], columns=["phase", "flux", "res"])
    if c == 0:
        left = ax("left", RYT, title="Residuals", titlePadding=0,
                  labelExpr="abs(datum.value*10 - round(datum.value*10)) < 0.01 ? format(datum.value, '.1f') : ''",
                  **LAB, **TIT)
    else:
        left = ax("left", RYT)
    if r == 5:
        kw = dict(labelExpr="datum.value > 0.05 && abs(datum.value*5 - round(datum.value*5)) < 0.01 ? format(datum.value, '.1f') : ''",
                  **LAB)
        kw["labelPadding"] = 5
        kw["labelFontSize"] = 14.5
        if c == 4:
            kw["labelFlush"] = True
        if c == 2:
            kw.update(title="Rotation phase (5.988h period)", titlePadding=0, titleX=95,
                      titleAlign="center", titleAnchor="start", **TIT)
            kw["titleFontSize"] = 13.5
        bottom = ax("bottom", XT, **kw)
    else:
        bottom = ax("bottom", XT)
    pts = alt.Chart(dd).mark_point(shape="circle", filled=False, size=44, color="#111111",
                                   strokeWidth=1, opacity=1, clip=True).encode(
        x=alt.X("phase:Q", scale=XS, axis=bottom),
        y=alt.Y("res:Q", scale=RYS, axis=left))
    zero = alt.Chart(pd.DataFrame({"z": [0.0]})).mark_rule(
        color="#808080", strokeDash=[6, 4], strokeWidth=1).encode(
        y=alt.Y("z:Q", scale=RYS, axis=None))
    ghost = alt.Chart(dd).mark_point(opacity=0, clip=True).encode(
        x=alt.X("phase:Q", scale=XS, axis=ax("top", XT)),
        y=alt.Y("res:Q", scale=RYS, axis=ax("right", RYT)))
    return alt.layer(zero, pts, ghost).resolve_axis(x="independent", y="independent").properties(
        width=W, height=HR)


cells = []
for r in range(6):
    for c in range(5):
        cells.append(flux_panel(r * 5 + c, r, c))
    for c in range(5):
        cells.append(resid_panel(r * 5 + c, r, c))

chart = alt.concat(*cells, columns=5, spacing={"row": 0, "column": 2}, bounds="flush", align="each").properties(
    padding={"left": 4, "top": 0, "right": 0, "bottom": 0}
).configure(background="white").configure_view(stroke="#2a2a2a", strokeWidth=1.5)

chart.save("out.html", embed_options={"renderer": "svg", "actions": False})
